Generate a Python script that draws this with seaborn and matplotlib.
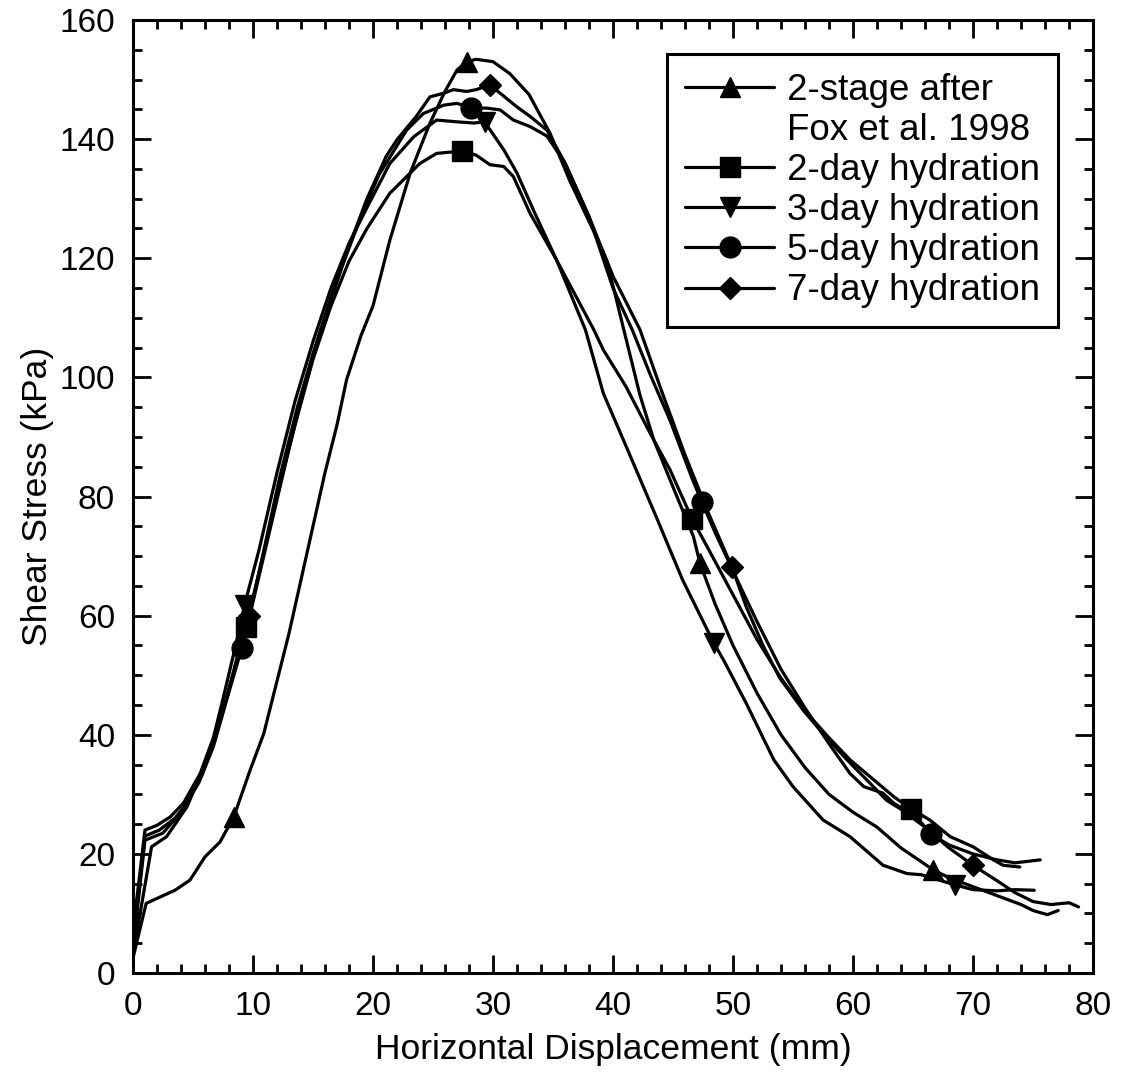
import numpy as np
import pandas as pd
import matplotlib
matplotlib.use("Agg")
import matplotlib.pyplot as plt
from matplotlib.lines import Line2D
from matplotlib.ticker import MultipleLocator
import seaborn as sns

# ------------------------------------------
# Data
# ------------------------------------------
x_2stage = [0, 1.1, 2.3, 3.5, 4.75, 6.0, 7.25, 8.4, 9.75, 10.9, 11.6, 13.0, 14.0, 15.0, 16.0, 17.0, 17.8,
            19.0, 20.0, 21.4, 23.1, 24.75, 26.0, 27.0, 27.8, 28.6, 30.0, 31.4, 33.0, 34.75, 36.4, 38.4,
            39.5, 40.9, 42.25, 43.4, 45.0, 46.7, 47.25, 48.5, 50.0, 52.0, 54.0, 56.0, 58.0, 60.0, 62.0,
            64.0, 66.7, 68.0, 70.0, 72.0, 74.0, 75.0, 76.2, 77.1]
y_2stage = [2.5, 11.7, 12.8, 13.9, 15.6, 19.5, 22.0, 26.2, 34.0, 40.2, 45.8, 57.0, 66.0, 75.0, 84.0, 92.0, 99.6,
            107.0, 112.0, 123.0, 134.3, 142.7, 148.0, 151.6, 153.0, 153.4, 153.0, 151.0, 147.5, 141.0, 133.0, 124.5,
            119.5, 108.0, 97.0, 89.5, 81.6, 73.3, 68.8, 62.0, 55.0, 47.0, 40.0, 34.5, 30.0, 27.0, 24.5,
            21.0, 17.3, 16.0, 14.5, 13.0, 11.5, 10.5, 9.8, 10.5]

x_2day = [0, 1.0, 2.5, 4.0, 5.5, 6.7, 7.8, 8.7, 9.4, 10.6, 12.0, 13.5, 15.0, 16.5, 18.0, 19.5, 21.4, 23.9,
          25.3, 27.4, 28.6, 29.75, 30.9, 31.7, 33.1, 35.3, 38.4, 39.2, 41.1, 43.1, 44.75, 46.6, 48.0, 50.0,
          52.0, 54.0, 56.0, 58.0, 59.75, 61.4, 63.4, 64.8, 66.4, 68.1, 70.0, 71.7, 72.5, 73.9]
y_2day = [4.0, 22.3, 23.5, 27.0, 32.0, 38.0, 45.8, 52.0, 58.1, 68.0, 80.0, 92.0, 103.0, 112.0, 119.5, 125.0, 130.9, 135.9,
          137.6, 138.0, 137.3, 135.7, 135.4, 133.7, 127.5, 119.7, 108.0, 104.6, 98.4, 90.6, 84.5, 76.2, 71.0, 63.5,
          56.0, 49.5, 44.0, 39.5, 35.8, 33.0, 29.6, 27.6, 25.7, 22.9, 21.2, 19.0, 18.1, 17.8]

x_3day = [0, 1.0, 2.0, 3.1, 4.2, 5.6, 6.7, 7.5, 8.5, 9.3, 10.5, 12.0, 13.5, 15.0, 16.5, 18.0, 19.5, 21.4,
          23.4, 25.3, 27.0, 28.4, 29.3, 30.9, 32.0, 33.5, 35.3, 37.7, 39.2, 41.1, 43.6, 45.8, 48.4, 49.2,
          51.1, 53.4, 55.0, 57.5, 59.75, 62.5, 64.5, 65.7, 68.5, 70.0, 72.0, 73.5, 75.1]
y_3day = [7.0, 24.0, 24.8, 26.2, 28.5, 33.5, 39.5, 46.0, 54.5, 61.8, 71.0, 84.0, 96.0, 106.0, 115.0, 122.5, 128.5, 135.9,
          140.4, 143.2, 142.9, 142.7, 142.9, 138.2, 134.3, 127.5, 119.7, 108.0, 97.3, 88.4, 76.6, 66.0, 55.4, 52.6,
          45.3, 35.8, 31.3, 25.7, 22.9, 18.1, 16.7, 16.5, 14.8, 14.0, 13.8, 14.0, 13.9]

x_5day = [0, 1.55, 2.8, 4.5, 5.9, 7.2, 8.3, 9.1, 10.2, 11.6, 13.0, 14.5, 16.0, 17.5, 19.0, 20.5, 22.8, 24.2,
          25.9, 27.0, 28.2, 29.5, 30.6, 31.7, 33.1, 34.5, 36.0, 38.0, 40.0, 41.6, 43.2, 44.75, 46.6, 47.4,
          48.5, 50.0, 52.0, 54.0, 56.0, 58.0, 59.75, 60.9, 62.5, 63.4, 65.3, 66.5, 68.0, 70.0, 72.0, 73.5, 75.6]
y_5day = [3.0, 21.2, 22.9, 27.9, 34.6, 42.0, 50.0, 54.5, 64.0, 76.0, 88.0, 100.0, 110.0, 119.0, 127.0, 134.0, 141.5, 144.3,
          145.7, 146.0, 145.2, 145.2, 144.9, 143.2, 142.1, 140.5, 136.0, 127.0, 115.0, 108.0, 100.0, 92.8, 83.0, 79.1,
          74.0, 67.5, 59.0, 51.0, 44.5, 38.5, 33.5, 31.3, 30.2, 28.5, 26.2, 23.3, 21.5, 20.0, 19.0, 18.5, 19.0]

x_7day = [0, 1.0, 2.2, 3.5, 4.5, 5.7, 6.8, 7.8, 8.8, 9.7, 10.8, 12.2, 13.7, 15.0, 16.5, 18.0, 19.5, 21.1,
          22.0, 23.6, 24.75, 25.9, 26.7, 27.8, 28.6, 29.75, 30.6, 32.0, 33.1, 34.5, 36.0, 38.0, 40.0, 42.25,
          44.0, 46.0, 48.0, 49.9, 51.1, 52.5, 53.9, 55.9, 57.5, 59.5, 61.4, 62.8, 64.0, 66.0, 68.0, 70.0,
          72.0, 73.5, 75.0, 76.5, 78.0, 78.8]
y_7day = [5.0, 23.0, 24.0, 26.0, 28.5, 33.0, 39.0, 46.0, 54.0, 60.0, 70.0, 83.0, 95.0, 104.0, 113.5, 122.0, 130.0, 137.1,
          139.9, 143.8, 147.1, 147.7, 148.3, 148.0, 148.3, 149.1, 147.7, 145.4, 143.8, 141.5, 136.0, 127.0, 117.0, 108.0,
          98.0, 87.0, 77.0, 68.2, 61.5, 55.0, 49.5, 44.0, 40.2, 35.8, 31.9, 29.0, 27.5, 24.5, 21.0, 18.1,
          15.5, 13.5, 12.0, 11.5, 11.8, 11.1]

# x positions where the symbols are drawn
marks_2stage = [8.4, 27.8, 47.25, 66.7]
marks_2day = [9.4, 27.4, 46.6, 64.8]
marks_3day = [9.3, 29.3, 48.4, 68.5]
marks_5day = [9.1, 28.2, 47.4, 66.5]
marks_7day = [9.7, 29.75, 49.9, 70.0]

series = [
    ("2-stage after", x_2stage, y_2stage, marks_2stage, "^", 15),
    ("2-day hydration", x_2day, y_2day, marks_2day, "s", 15),
    ("3-day hydration", x_3day, y_3day, marks_3day, "v", 15),
    ("5-day hydration", x_5day, y_5day, marks_5day, "o", 15),
    ("7-day hydration", x_7day, y_7day, marks_7day, "D", 11),
]

# ------------------------------------------
# Style
# ------------------------------------------
sns.set_style("ticks")
plt.rcParams["font.family"] = ["Liberation Sans", "DejaVu Sans"]
plt.rcParams["axes.linewidth"] = 2.2
for key in ["text.color", "axes.labelcolor", "xtick.color", "ytick.color", "axes.edgecolor"]:
    plt.rcParams[key] = "black"

fig = plt.figure(figsize=(11.23, 10.74), dpi=100)
ax = fig.add_axes([0.1184, 0.094, 0.8549, 0.8874])

for name, xs, ys, marks, mk, ms in series:
    df = pd.DataFrame({"x": xs, "y": ys})
    idx = [xs.index(m) for m in marks]
    sns.lineplot(data=df, x="x", y="y", ax=ax, estimator=None, sort=False,
                 color="black", linewidth=2.3, marker=mk, markersize=ms,
                 markevery=idx, markeredgecolor="black", markerfacecolor="black",
                 markeredgewidth=1, legend=False)

ax.set_xlim(0, 80)
ax.set_ylim(0, 160)
ax.xaxis.set_major_locator(MultipleLocator(10))
ax.xaxis.set_minor_locator(MultipleLocator(2))
ax.yaxis.set_major_locator(MultipleLocator(20))
ax.yaxis.set_minor_locator(MultipleLocator(5))
ax.tick_params(which="both", direction="in", top=True, right=True, width=2, labelsize=24)
ax.tick_params(which="major", length=13, pad=13)
ax.tick_params(which="minor", length=6.5)
ax.set_xlabel("Horizontal Displacement (mm)", fontsize=25.5, labelpad=8)
ax.set_ylabel("Shear Stress (kPa)", fontsize=25.5, labelpad=4)

# legend: proxies, with a blank handle for the second line of the first label
handles = []
labels = []
for i, (name, xs, ys, marks, mk, ms) in enumerate(series):
    handles.append(Line2D([], [], color="black", linewidth=2.3, marker=mk, markersize=ms))
    labels.append(name)
    if i == 0:
        handles.append(Line2D([], [], color="none"))
        labels.append("Fox et al. 1998")

leg = ax.legend(handles, labels, loc="upper right", bbox_to_anchor=(0.9635, 0.964),
                borderaxespad=0, fontsize=26.5, frameon=True, fancybox=False,
                edgecolor="black", framealpha=1, handlelength=2.4, handletextpad=0.35,
                labelspacing=0.14, borderpad=0.5, numpoints=1)
leg.get_frame().set_linewidth(2.2)

plt.savefig("out.png", dpi=100)
